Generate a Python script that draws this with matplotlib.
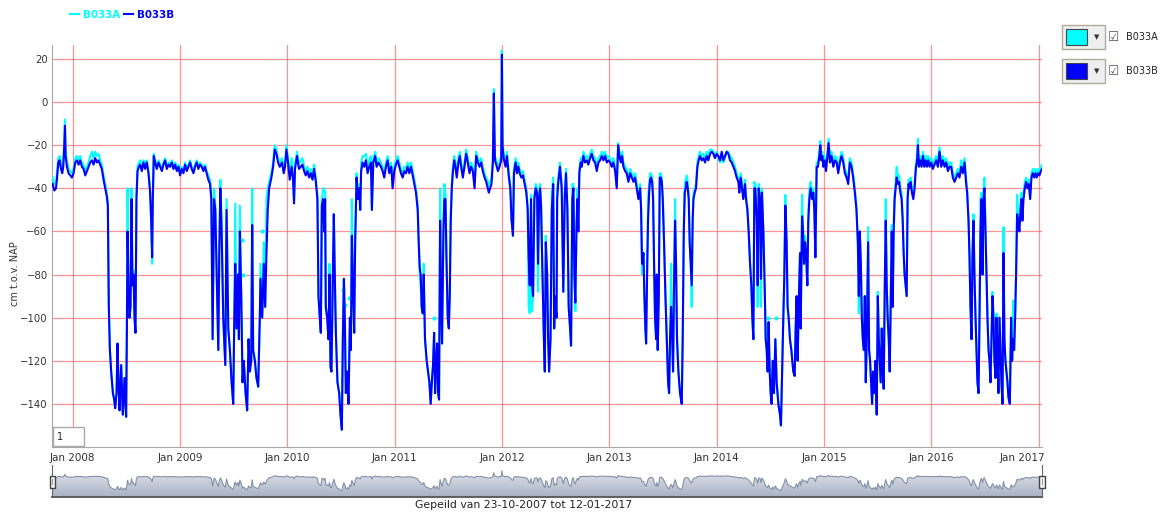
import matplotlib
matplotlib.use("Agg")
import matplotlib.pyplot as plt
import matplotlib.dates as mdates
import matplotlib.transforms as mtransforms
from matplotlib.colors import LinearSegmentedColormap
from matplotlib.patches import Rectangle
import numpy as np
import pandas as pd

# measurement moments as decimal years, levels in cm t.o.v. NAP
t_years = [
    2007.814, 2007.830, 2007.845, 2007.854, 2007.867, 2007.879, 2007.892, 2007.904, 2007.913, 2007.923,
    2007.929, 2007.935, 2007.947, 2007.963, 2007.978, 2007.994, 2008.009, 2008.025, 2008.040, 2008.056,
    2008.071, 2008.087, 2008.102, 2008.118, 2008.133, 2008.149, 2008.164, 2008.180, 2008.195, 2008.211,
    2008.226, 2008.241, 2008.257, 2008.272, 2008.288, 2008.303, 2008.319, 2008.328, 2008.337, 2008.347,
    2008.359, 2008.375, 2008.387, 2008.396, 2008.409, 2008.418, 2008.427, 2008.437, 2008.452, 2008.467,
    2008.483, 2008.492, 2008.498, 2008.505, 2008.511, 2008.520, 2008.529, 2008.539, 2008.548, 2008.557,
    2008.567, 2008.576, 2008.585, 2008.594, 2008.604, 2008.616, 2008.628, 2008.644, 2008.659, 2008.675,
    2008.690, 2008.706, 2008.721, 2008.731, 2008.740, 2008.746, 2008.755, 2008.768, 2008.783, 2008.799,
    2008.814, 2008.830, 2008.845, 2008.861, 2008.876, 2008.892, 2008.907, 2008.923, 2008.938, 2008.954,
    2008.969, 2008.985, 2009.000, 2009.015, 2009.031, 2009.046, 2009.062, 2009.077, 2009.093, 2009.108,
    2009.124, 2009.139, 2009.155, 2009.170, 2009.186, 2009.201, 2009.217, 2009.232, 2009.248, 2009.263,
    2009.279, 2009.291, 2009.303, 2009.316, 2009.328, 2009.341, 2009.356, 2009.365, 2009.375, 2009.387,
    2009.402, 2009.421, 2009.433, 2009.449, 2009.464, 2009.480, 2009.495, 2009.505, 2009.514, 2009.526,
    2009.539, 2009.548, 2009.557, 2009.570, 2009.582, 2009.594, 2009.610, 2009.625, 2009.638, 2009.650,
    2009.663, 2009.672, 2009.681, 2009.697, 2009.712, 2009.728, 2009.743, 2009.749, 2009.765, 2009.780,
    2009.793, 2009.805, 2009.817, 2009.830, 2009.851, 2009.867, 2009.882, 2009.898, 2009.913, 2009.929,
    2009.950, 2009.966, 2009.978, 2009.991, 2010.006, 2010.022, 2010.040, 2010.053, 2010.062, 2010.071,
    2010.090, 2010.108, 2010.125, 2010.140, 2010.156, 2010.171, 2010.187, 2010.203, 2010.218, 2010.234,
    2010.249, 2010.265, 2010.280, 2010.290, 2010.302, 2010.312, 2010.321, 2010.333, 2010.343, 2010.352,
    2010.358, 2010.371, 2010.383, 2010.393, 2010.402, 2010.411, 2010.421, 2010.433, 2010.442, 2010.452,
    2010.467, 2010.483, 2010.495, 2010.508, 2010.517, 2010.527, 2010.536, 2010.545, 2010.558, 2010.570,
    2010.583, 2010.592, 2010.601, 2010.614, 2010.623, 2010.632, 2010.645, 2010.657, 2010.670, 2010.679,
    2010.688, 2010.701, 2010.717, 2010.732, 2010.748, 2010.763, 2010.779, 2010.788, 2010.801, 2010.819,
    2010.832, 2010.850, 2010.872, 2010.888, 2010.903, 2010.919, 2010.935, 2010.950, 2010.969, 2010.981,
    2010.997, 2011.012, 2011.028, 2011.044, 2011.059, 2011.075, 2011.090, 2011.106, 2011.121, 2011.137,
    2011.153, 2011.168, 2011.184, 2011.199, 2011.215, 2011.224, 2011.234, 2011.243, 2011.252, 2011.262,
    2011.271, 2011.283, 2011.299, 2011.312, 2011.324, 2011.336, 2011.349, 2011.358, 2011.368, 2011.377,
    2011.386, 2011.396, 2011.405, 2011.414, 2011.424, 2011.433, 2011.442, 2011.455, 2011.464, 2011.474,
    2011.483, 2011.495, 2011.505, 2011.514, 2011.523, 2011.533, 2011.542, 2011.555, 2011.567, 2011.579,
    2011.595, 2011.607, 2011.620, 2011.636, 2011.651, 2011.667, 2011.682, 2011.698, 2011.713, 2011.729,
    2011.745, 2011.760, 2011.776, 2011.791, 2011.807, 2011.822, 2011.838, 2011.854, 2011.869, 2011.878,
    2011.891, 2011.903, 2011.916, 2011.925, 2011.935, 2011.947, 2011.963, 2011.978, 2011.988, 2011.994,
    2012.000, 2012.006, 2012.016, 2012.034, 2012.047, 2012.065, 2012.078, 2012.090, 2012.103, 2012.112,
    2012.128, 2012.140, 2012.153, 2012.165, 2012.181, 2012.196, 2012.212, 2012.227, 2012.240, 2012.249,
    2012.259, 2012.271, 2012.280, 2012.290, 2012.302, 2012.315, 2012.327, 2012.336, 2012.346, 2012.355,
    2012.364, 2012.377, 2012.389, 2012.399, 2012.408, 2012.421, 2012.430, 2012.439, 2012.452, 2012.464,
    2012.477, 2012.486, 2012.495, 2012.508, 2012.514, 2012.523, 2012.540, 2012.556, 2012.571, 2012.584,
    2012.596, 2012.609, 2012.621, 2012.634, 2012.643, 2012.655, 2012.665, 2012.674, 2012.683, 2012.693,
    2012.702, 2012.711, 2012.720, 2012.733, 2012.742, 2012.758, 2012.773, 2012.789, 2012.804, 2012.820,
    2012.835, 2012.851, 2012.866, 2012.882, 2012.898, 2012.913, 2012.929, 2012.944, 2012.960, 2012.975,
    2012.991, 2013.006, 2013.022, 2013.037, 2013.053, 2013.068, 2013.081, 2013.093, 2013.106, 2013.118,
    2013.130, 2013.146, 2013.161, 2013.177, 2013.193, 2013.208, 2013.224, 2013.239, 2013.255, 2013.270,
    2013.286, 2013.295, 2013.304, 2013.317, 2013.326, 2013.335, 2013.342, 2013.351, 2013.360, 2013.370,
    2013.379, 2013.388, 2013.398, 2013.407, 2013.416, 2013.425, 2013.435, 2013.441, 2013.450, 2013.460,
    2013.469, 2013.478, 2013.488, 2013.497, 2013.509, 2013.522, 2013.534, 2013.547, 2013.556, 2013.565,
    2013.575, 2013.584, 2013.593, 2013.602, 2013.612, 2013.621, 2013.630, 2013.643, 2013.658, 2013.674,
    2013.683, 2013.693, 2013.702, 2013.711, 2013.720, 2013.730, 2013.739, 2013.748, 2013.758, 2013.767,
    2013.776, 2013.783, 2013.795, 2013.807, 2013.820, 2013.832, 2013.845, 2013.860, 2013.876, 2013.891,
    2013.907, 2013.922, 2013.938, 2013.953, 2013.969, 2013.984, 2014.000, 2014.016, 2014.031, 2014.047,
    2014.062, 2014.078, 2014.093, 2014.109, 2014.124, 2014.140, 2014.155, 2014.171, 2014.186, 2014.202,
    2014.211, 2014.224, 2014.236, 2014.248, 2014.264, 2014.273, 2014.286, 2014.298, 2014.311, 2014.323,
    2014.332, 2014.342, 2014.351, 2014.360, 2014.373, 2014.382, 2014.391, 2014.404, 2014.413, 2014.422,
    2014.435, 2014.447, 2014.457, 2014.466, 2014.475, 2014.484, 2014.494, 2014.503, 2014.512, 2014.522,
    2014.534, 2014.547, 2014.559, 2014.575, 2014.590, 2014.599, 2014.612, 2014.621, 2014.630, 2014.640,
    2014.652, 2014.661, 2014.671, 2014.683, 2014.696, 2014.705, 2014.714, 2014.727, 2014.736, 2014.745,
    2014.755, 2014.764, 2014.777, 2014.783, 2014.796, 2014.805, 2014.814, 2014.824, 2014.833, 2014.845,
    2014.854, 2014.864, 2014.876, 2014.889, 2014.901, 2014.910, 2014.920, 2014.932, 2014.944, 2014.957,
    2014.966, 2014.975, 2014.985, 2014.994, 2015.006, 2015.019, 2015.031, 2015.043, 2015.056, 2015.071,
    2015.087, 2015.102, 2015.118, 2015.133, 2015.149, 2015.164, 2015.180, 2015.195, 2015.211, 2015.226,
    2015.241, 2015.257, 2015.272, 2015.288, 2015.303, 2015.316, 2015.325, 2015.334, 2015.344, 2015.353,
    2015.362, 2015.372, 2015.381, 2015.390, 2015.399, 2015.412, 2015.421, 2015.430, 2015.440, 2015.449,
    2015.458, 2015.471, 2015.480, 2015.492, 2015.502, 2015.511, 2015.520, 2015.529, 2015.539, 2015.548,
    2015.557, 2015.567, 2015.576, 2015.585, 2015.594, 2015.604, 2015.613, 2015.622, 2015.632, 2015.641,
    2015.650, 2015.659, 2015.669, 2015.678, 2015.690, 2015.700, 2015.712, 2015.724, 2015.734, 2015.743,
    2015.752, 2015.762, 2015.771, 2015.780, 2015.789, 2015.799, 2015.808, 2015.820, 2015.833, 2015.845,
    2015.858, 2015.867, 2015.876, 2015.885, 2015.898, 2015.910, 2015.923, 2015.935, 2015.947, 2015.960,
    2015.972, 2015.985, 2016.000, 2016.015, 2016.031, 2016.046, 2016.062, 2016.077, 2016.093, 2016.108,
    2016.124, 2016.139, 2016.155, 2016.170, 2016.186, 2016.201, 2016.217, 2016.232, 2016.248, 2016.263,
    2016.279, 2016.294, 2016.310, 2016.325, 2016.334, 2016.347, 2016.356, 2016.365, 2016.375, 2016.384,
    2016.393, 2016.402, 2016.412, 2016.421, 2016.430, 2016.440, 2016.449, 2016.458, 2016.467, 2016.477,
    2016.486, 2016.495, 2016.505, 2016.514, 2016.523, 2016.533, 2016.542, 2016.551, 2016.560, 2016.570,
    2016.579, 2016.588, 2016.598, 2016.607, 2016.616, 2016.625, 2016.635, 2016.644, 2016.653, 2016.663,
    2016.672, 2016.681, 2016.690, 2016.700, 2016.709, 2016.718, 2016.731, 2016.743, 2016.752, 2016.761,
    2016.771, 2016.780, 2016.789, 2016.799, 2016.808, 2016.820, 2016.830, 2016.839, 2016.848, 2016.858,
    2016.870, 2016.882, 2016.895, 2016.907, 2016.920, 2016.932, 2016.944, 2016.957, 2016.969, 2016.981,
    2016.994, 2017.006, 2017.019, 2017.031,
]

b033b = [
    -38, -41, -40, -36, -28, -27, -31, -33, -30, -20,
    -11, -25, -30, -33, -34, -35, -33, -28, -27, -29,
    -27, -30, -31, -34, -32, -30, -28, -27, -29, -26,
    -28, -27, -29, -31, -36, -40, -44, -48, -95, -115,
    -125, -135, -138, -142, -135, -112, -130, -143, -122, -145,
    -128, -140, -146, -105, -60, -85, -100, -95, -45, -85,
    -80, -100, -107, -45, -32, -30, -29, -32, -28, -31,
    -28, -33, -42, -55, -72, -45, -25, -28, -31, -28,
    -30, -32, -29, -27, -31, -29, -30, -28, -31, -29,
    -32, -30, -34, -31, -33, -29, -32, -30, -28, -31,
    -33, -30, -28, -31, -29, -30, -32, -30, -33, -36,
    -38, -45, -110, -45, -50, -80, -115, -70, -40, -60,
    -100, -122, -50, -105, -115, -130, -140, -100, -75, -105,
    -80, -110, -60, -90, -130, -120, -135, -143, -110, -125,
    -120, -57, -115, -120, -128, -132, -100, -82, -100, -75,
    -95, -70, -50, -40, -35, -30, -22, -24, -28, -30,
    -28, -33, -30, -22, -28, -36, -30, -36, -47, -31,
    -25, -31, -30, -29, -32, -34, -32, -35, -33, -36,
    -31, -37, -45, -90, -100, -107, -48, -45, -60, -45,
    -95, -100, -110, -80, -123, -125, -90, -52, -80, -107,
    -130, -135, -145, -152, -110, -82, -102, -135, -125, -140,
    -100, -115, -62, -90, -107, -65, -35, -45, -40, -50,
    -32, -28, -30, -27, -33, -30, -28, -50, -28, -25,
    -30, -28, -30, -32, -35, -30, -27, -33, -30, -40,
    -32, -29, -27, -30, -33, -35, -32, -33, -30, -33,
    -30, -34, -38, -42, -50, -65, -77, -80, -95, -98,
    -80, -110, -120, -125, -130, -140, -128, -122, -107, -135,
    -122, -112, -135, -138, -55, -90, -112, -60, -45, -45,
    -72, -100, -105, -90, -55, -40, -33, -27, -30, -35,
    -28, -25, -30, -35, -30, -24, -28, -33, -30, -32,
    -40, -25, -28, -30, -28, -32, -35, -37, -40, -42,
    -40, -38, -28, 4, -27, -29, -32, -30, -28, -27,
    22, -20, -26, -30, -25, -35, -40, -55, -62, -33,
    -28, -33, -30, -33, -35, -34, -38, -42, -50, -72,
    -85, -45, -85, -90, -45, -40, -42, -75, -45, -40,
    -48, -80, -107, -125, -65, -80, -110, -125, -110, -50,
    -38, -105, -90, -100, -45, -38, -30, -40, -88, -45,
    -33, -50, -95, -105, -113, -45, -40, -80, -93, -60,
    -45, -60, -33, -28, -30, -25, -28, -27, -29, -26,
    -24, -27, -28, -32, -28, -27, -25, -27, -25, -28,
    -27, -28, -30, -28, -32, -40, -20, -25, -28, -25,
    -30, -32, -33, -37, -33, -35, -37, -35, -40, -45,
    -40, -50, -75, -70, -90, -105, -112, -80, -55, -42,
    -36, -35, -37, -45, -75, -100, -110, -80, -115, -90,
    -35, -35, -37, -45, -65, -90, -110, -130, -135, -110,
    -95, -107, -125, -85, -55, -75, -110, -125, -135, -140,
    -110, -60, -42, -40, -37, -40, -45, -65, -75, -85,
    -55, -45, -42, -40, -30, -27, -25, -27, -26, -28,
    -25, -27, -24, -23, -24, -26, -24, -25, -27, -23,
    -27, -25, -23, -24, -27, -28, -30, -32, -35, -37,
    -42, -35, -40, -45, -38, -45, -50, -60, -75, -85,
    -100, -110, -40, -40, -55, -85, -40, -45, -82, -42,
    -60, -85, -110, -115, -125, -102, -125, -135, -140, -120,
    -135, -110, -130, -140, -145, -150, -120, -100, -82, -48,
    -65, -95, -100, -110, -115, -120, -125, -127, -105, -90,
    -120, -95, -70, -105, -53, -60, -75, -65, -70, -85,
    -55, -45, -40, -45, -42, -50, -72, -30, -30, -25,
    -20, -27, -25, -30, -27, -32, -26, -19, -28, -25,
    -30, -27, -28, -33, -28, -25, -28, -33, -35, -38,
    -28, -30, -35, -42, -50, -65, -90, -60, -75, -100,
    -110, -115, -90, -130, -110, -65, -115, -120, -130, -140,
    -125, -135, -120, -145, -90, -110, -120, -130, -105, -125,
    -133, -85, -55, -85, -100, -110, -125, -95, -60, -95,
    -60, -45, -40, -35, -38, -37, -42, -45, -55, -70,
    -80, -85, -90, -45, -38, -40, -37, -42, -45, -40,
    -30, -28, -20, -30, -27, -30, -25, -30, -27, -30,
    -27, -30, -28, -31, -29, -27, -30, -23, -30, -27,
    -30, -28, -32, -30, -30, -35, -37, -35, -33, -35,
    -30, -33, -28, -38, -42, -55, -72, -95, -110, -70,
    -55, -80, -100, -115, -130, -135, -100, -60, -45, -80,
    -45, -40, -60, -80, -100, -115, -120, -130, -110, -90,
    -100, -120, -128, -100, -115, -135, -100, -115, -130, -140,
    -70, -110, -120, -125, -130, -137, -140, -100, -120, -110,
    -115, -100, -80, -52, -55, -60, -50, -45, -55, -45,
    -40, -37, -40, -38, -45, -35, -33, -35, -33, -35,
    -33, -34, -32, -31,
]

b033a = [
    -35, -38, -37, -33, -26, -25, -28, -30, -28, -18,
    -8, -22, -27, -31, -32, -33, -31, -26, -25, -27,
    -25, -28, -29, -32, -30, -28, -25, -23, -26, -23,
    -25, -24, -27, -29, -34, -38, -42, -47, -95, -115,
    -125, -135, -138, -142, -135, -112, -130, -143, -122, -145,
    -128, -140, -146, -105, -40, -85, -100, -95, -40, -85,
    -78, -100, -107, -43, -30, -28, -27, -30, -27, -29,
    -27, -32, -41, -55, -75, -45, -24, -27, -30, -27,
    -29, -31, -28, -26, -30, -28, -29, -27, -30, -28,
    -31, -29, -33, -30, -32, -28, -31, -29, -27, -30,
    -32, -29, -27, -30, -28, -29, -31, -29, -32, -34,
    -36, -42, -110, -40, -48, -80, -115, -70, -36, -55,
    -100, -122, -45, -105, -115, -130, -140, -100, -47, -105,
    -80, -110, -48, -90, -130, -120, -135, -143, -110, -125,
    -120, -40, -115, -120, -128, -132, -100, -75, -100, -65,
    -95, -45, -40, -37, -33, -28, -20, -22, -26, -28,
    -26, -31, -28, -20, -26, -34, -26, -34, -46, -29,
    -23, -29, -27, -26, -30, -32, -30, -33, -31, -34,
    -29, -35, -43, -90, -100, -107, -46, -40, -40, -42,
    -95, -100, -110, -75, -123, -125, -90, -52, -80, -107,
    -130, -135, -145, -152, -110, -82, -102, -135, -125, -140,
    -100, -115, -45, -90, -107, -65, -33, -43, -38, -50,
    -28, -25, -25, -24, -30, -27, -25, -50, -26, -23,
    -28, -26, -28, -30, -33, -28, -25, -31, -28, -39,
    -30, -27, -25, -28, -31, -33, -30, -31, -28, -31,
    -28, -32, -36, -40, -48, -62, -80, -85, -95, -98,
    -75, -110, -120, -125, -130, -140, -128, -122, -107, -135,
    -122, -112, -135, -138, -40, -90, -112, -55, -38, -42,
    -70, -100, -105, -90, -52, -38, -31, -25, -28, -33,
    -26, -23, -28, -33, -28, -22, -26, -31, -28, -30,
    -38, -23, -26, -28, -26, -30, -33, -35, -37, -39,
    -37, -35, -26, 6, -25, -27, -30, -28, -26, -25,
    24, -18, -24, -28, -23, -33, -38, -54, -62, -31,
    -26, -31, -28, -31, -33, -32, -36, -40, -48, -95,
    -98, -43, -97, -90, -43, -38, -40, -88, -43, -38,
    -46, -80, -107, -125, -62, -80, -110, -125, -110, -42,
    -35, -105, -90, -100, -40, -36, -28, -38, -88, -43,
    -31, -48, -95, -105, -113, -38, -38, -82, -97, -58,
    -40, -58, -31, -26, -28, -23, -26, -25, -27, -24,
    -22, -25, -26, -30, -26, -25, -23, -25, -23, -26,
    -25, -26, -28, -26, -30, -39, -19, -23, -26, -23,
    -28, -30, -31, -35, -31, -33, -35, -33, -38, -43,
    -38, -48, -80, -70, -90, -105, -112, -80, -45, -38,
    -33, -33, -35, -43, -75, -100, -110, -80, -115, -90,
    -33, -33, -35, -43, -65, -90, -110, -130, -135, -110,
    -75, -107, -125, -85, -45, -75, -110, -125, -135, -140,
    -110, -60, -38, -36, -34, -37, -42, -65, -75, -95,
    -55, -43, -40, -38, -28, -25, -23, -25, -24, -26,
    -23, -25, -22, -22, -23, -25, -23, -26, -28, -24,
    -28, -26, -23, -23, -25, -26, -28, -30, -33, -35,
    -40, -33, -38, -43, -36, -43, -48, -60, -75, -85,
    -100, -110, -37, -38, -55, -95, -38, -43, -95, -40,
    -60, -85, -110, -115, -125, -102, -125, -135, -140, -120,
    -135, -110, -130, -140, -145, -150, -120, -100, -82, -43,
    -65, -95, -100, -110, -115, -120, -125, -127, -105, -90,
    -120, -95, -70, -105, -43, -58, -75, -62, -70, -85,
    -52, -40, -37, -43, -40, -48, -72, -28, -28, -23,
    -18, -25, -23, -28, -25, -30, -24, -17, -26, -23,
    -28, -25, -26, -31, -26, -23, -26, -31, -33, -36,
    -26, -28, -33, -40, -48, -65, -98, -60, -75, -100,
    -110, -115, -90, -130, -110, -58, -115, -120, -130, -140,
    -125, -135, -120, -145, -88, -110, -120, -130, -105, -125,
    -133, -85, -45, -85, -100, -110, -125, -95, -57, -95,
    -57, -42, -37, -30, -35, -34, -39, -42, -53, -70,
    -80, -85, -90, -43, -36, -38, -35, -40, -43, -38,
    -28, -26, -17, -28, -25, -28, -23, -28, -25, -28,
    -25, -28, -26, -29, -27, -25, -28, -21, -28, -25,
    -28, -26, -30, -28, -28, -33, -35, -33, -31, -33,
    -27, -31, -26, -36, -40, -55, -72, -95, -110, -70,
    -52, -80, -100, -115, -130, -135, -100, -45, -42, -80,
    -40, -35, -60, -80, -100, -115, -120, -130, -110, -88,
    -100, -120, -128, -98, -115, -135, -100, -115, -130, -140,
    -58, -110, -120, -125, -130, -137, -140, -100, -120, -92,
    -115, -100, -80, -43, -52, -57, -47, -42, -52, -42,
    -37, -35, -38, -36, -43, -33, -31, -33, -31, -33,
    -31, -32, -30, -29,
]

# loose B033A readings drawn as single dots
dots_a_t = [2009.573, 2009.588, 2009.759, 2010.520, 2010.536, 2010.576, 2011.364, 2014.481, 2014.553]
dots_a_v = [-64, -80, -60, -87, -94, -91, -100, -100, -100]

year_ticks = list(range(2008, 2018))
level_ticks = [20, 0, -20, -40, -60, -80, -100, -120, -140]
series_names = ["B033A", "B033B"]
series_colors = ["#00ffff", "#0000ff"]

assert len(t_years) == len(b033b) == len(b033a)


def to_date(t):
    year = int(t)
    start = pd.Timestamp(year=year, month=1, day=1)
    n_days = 366 if start.is_leap_year else 365
    return start + pd.Timedelta(days=(t - year) * n_days)


dates = mdates.date2num([to_date(t) for t in t_years])
dot_dates = mdates.date2num([to_date(t) for t in dots_a_t])
x_start = mdates.date2num(pd.Timestamp("2007-10-23"))
x_end = mdates.date2num(pd.Timestamp("2017-01-12"))

plt.rcParams["font.family"] = ["DejaVu Sans"]

W, H = 1165, 512
fig = plt.figure(figsize=(W / 100, H / 100), dpi=100)


def box(left, top, right, bottom):
    # pixel box -> figure fraction rect
    return [left / W, 1 - bottom / H, (right - left) / W, (bottom - top) / H]


# main chart
ax = fig.add_axes(box(52, 45, 1042, 447))
line_a, = ax.plot(dates, b033a, color=series_colors[0], lw=1.5, label=series_names[0], zorder=3)
line_b, = ax.plot(dates, b033b, color=series_colors[1], lw=1.5, label=series_names[1], zorder=4)
ax.plot(dot_dates, dots_a_v, "o", color=series_colors[0], ms=3, mew=0, zorder=3)

ax.set_xlim(x_start, x_end)
ax.set_ylim(-160, 26.5)
ax.set_xticks([mdates.date2num(pd.Timestamp(year=y, month=1, day=1)) for y in year_ticks])
ax.set_xticklabels([f"Jan {y}" for y in year_ticks])
ax.set_yticks(level_ticks)
ax.grid(True, color="#ff6f6f", lw=0.9, alpha=0.75)
ax.set_axisbelow(True)
ax.tick_params(length=0, colors="#333333")
ax.tick_params(axis="x", pad=4, labelsize=7.5)
ax.tick_params(axis="y", pad=3, labelsize=7.3)
for side in ["top", "right"]:
    ax.spines[side].set_visible(False)
for side in ["left", "bottom"]:
    ax.spines[side].set_color("#a8a8a8")

# last label is pushed inside the plot edge
last = ax.get_xticklabels()[-1]
last.set_horizontalalignment("right")
last.set_transform(last.get_transform() + mtransforms.ScaledTranslation(6 / 100, 0, fig.dpi_scale_trans))

fig.text(15 / W, 1 - 274 / H, "cm t.o.v. NAP", rotation=90, ha="center", va="center",
         fontsize=7, color="#333333")

fig.legend(handles=[line_a, line_b], loc="center left", bbox_to_anchor=(70 / W, 1 - 15 / H),
           ncol=2, frameon=False, handlelength=0.9, handletextpad=0.4, columnspacing=0.35,
           borderpad=0, borderaxespad=0, labelcolor="linecolor",
           prop={"weight": "bold", "size": 7.4})

# zoom input box in the lower-left corner
fig.add_artist(Rectangle((53 / W, 1 - 446 / H), 31 / W, 19 / H, transform=fig.transFigure,
                         facecolor="white", edgecolor="#aaaaaa", lw=1, zorder=10))
fig.text(57 / W, 1 - 437 / H, "1", fontsize=7, va="center", color="#222222", zorder=11)

# navigator strip
nav = fig.add_axes(box(52, 465, 1042, 497))
nav_low, nav_high = -205, 71
grad = np.linspace(0, 1, 64).reshape(-1, 1)
cmap = LinearSegmentedColormap.from_list("nav", ["#a9b2c4", "#eceef3"])
im = nav.imshow(grad, aspect="auto", cmap=cmap, origin="lower",
                extent=[x_start, x_end, nav_low, nav_high], zorder=1)
fill = nav.fill_between(dates, b033b, nav_low, facecolor="none", edgecolor="none")
im.set_clip_path(fill.get_paths()[0], transform=nav.transData)
nav.plot(dates, b033b, color="#8391a8", lw=0.8, zorder=2)
nav.set_xlim(x_start, x_end)
nav.set_ylim(nav_low, nav_high)
nav.set_xticks([])
nav.set_yticks([])
nav.patch.set_alpha(0)
nav.spines["top"].set_visible(False)
for side in ["left", "right"]:
    nav.spines[side].set_color("#666666")
nav.spines["bottom"].set_color("#555555")
nav.spines["bottom"].set_linewidth(1.3)

for hx in [52.5, 1042]:
    fig.add_artist(Rectangle(((hx - 2.8) / W, 1 - 487.5 / H), 5.6 / W, 11.5 / H, transform=fig.transFigure,
                             facecolor="#f4f4f4", edgecolor="#444444", lw=1.0, zorder=10))
    fig.add_artist(Rectangle(((hx - 0.5) / W, 1 - 485 / H), 1.0 / W, 6.5 / H, transform=fig.transFigure,
                             facecolor="#999999", edgecolor="none", zorder=11))

fig.text(524 / W, 1 - 505 / H, "Gepeild van 23-10-2007 tot 12-01-2017", ha="center", va="center",
         fontsize=7.8, color="#222222")

# series colour pickers on the right
for i, (name, color) in enumerate(zip(series_names, series_colors)):
    top = 25 + 34 * i
    fig.add_artist(Rectangle((1062 / W, 1 - (top + 24) / H), 43 / W, 24 / H, transform=fig.transFigure,
                             facecolor="#efefef", edgecolor="#b3a99c", lw=1))
    fig.add_artist(Rectangle((1066 / W, 1 - (top + 20) / H), 21 / W, 16 / H, transform=fig.transFigure,
                             facecolor=color, edgecolor="#444444", lw=0.8))
    fig.text(1097 / W, 1 - (top + 12) / H, "\u25bc", ha="center", va="center", fontsize=5, color="#333333")
    fig.text(1114 / W, 1 - (top + 12) / H, "\u2611", ha="center", va="center", fontsize=9, color="#555555")
    fig.text(1126 / W, 1 - (top + 12.5) / H, name, ha="left", va="center", fontsize=7, color="#222222")

fig.savefig("out.png", dpi=100)
